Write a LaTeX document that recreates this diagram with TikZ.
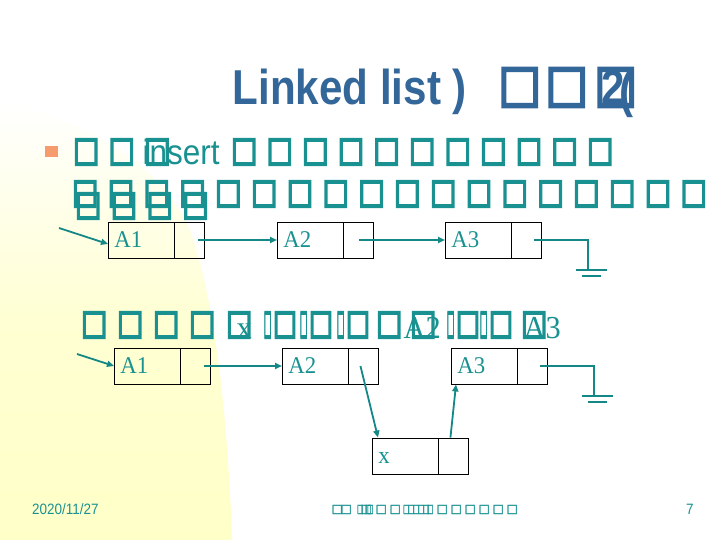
\documentclass[tikz,border=0pt]{standalone}
\usepackage{fontspec}
\usepackage{graphicx}
\usetikzlibrary{arrows.meta}
\newfontfamily\sansf[FakeStretch=0.9]{Liberation Sans}
\newfontfamily\titlef[FakeStretch=0.86]{Liberation Sans}
\newfontfamily\serf[FakeStretch=0.95]{Liberation Serif}
\newfontfamily\tofu[FakeBold=6]{DejaVu Sans}
\newfontfamily\tofuS[FakeBold=2]{DejaVu Sans}
\newfontfamily\tofuT[FakeBold=5.5]{DejaVu Sans}
\definecolor{tealtx}{RGB}{25,145,145}
\definecolor{tealln}{RGB}{20,135,135}
\definecolor{titleblue}{RGB}{51,102,153}
\definecolor{bulletor}{RGB}{245,155,110}
\definecolor{yel}{RGB}{255,255,200}
% tofu glyph: #1 = ink width, #2 = ink height, #3 = font
\newcommand\tofubox[3]{\hspace*{-\dimexpr #1pt*10/80\relax}\raisebox{\depth}{\resizebox*{\dimexpr #1pt*100/80\relax}{#2pt}{#3□}}}
\newcommand\tbT{\tofubox{34}{39}{\tofuT}}
\newcommand\tb{\tofubox{21}{26}{\tofu}}
\newcommand\tnarrow{\tofubox{6}{26}{\tofu}}
\newcommand\tfullbox{\tofubox{19}{26}{\tofu}}
\newcommand\tpair{\tnarrow\hspace*{4pt}\tfullbox}
\newcommand\tsm{\tofubox{9}{9}{\tofuS}}
\newcommand\tsn{\tofubox{5}{9}{\tofuS}}
\newcommand\putat[2]{\rlap{\hspace*{#1pt}#2}}
\tikzset{
  cell/.style={draw=black, line width=0.9pt, minimum height=36pt, inner sep=0pt, anchor=west},
  dcell/.style={cell, minimum width=66pt, text=tealtx, font=\serf\fontsize{24}{24}\selectfont},
  pcell/.style={cell, minimum width=30pt},
  arr/.style={draw=tealln, line width=1.8pt, -{Triangle[length=7pt,width=6pt]}},
  gnd/.style={draw=tealln, line width=1.1pt},
  txtline/.style={anchor=base west, inner sep=0pt, text=tealtx}
}
\newcommand\lab[1]{\makebox[54pt][l]{#1\vphantom{A}}}
\begin{document}
\begin{tikzpicture}[x=1pt,y=-1pt]
\useasboundingbox (0,0) rectangle (720,540);
\fill[white] (0,0) rectangle (720,540);
\shade[top color=white, bottom color=yel, middle color=yel!80] (0,100) -- (0,540) -- (232,540) .. controls (228,420) and (215,300) .. (190,230) .. controls (160,160) and (80,120) .. (0,100) -- cycle;

% title
\node[txtline, text=titleblue, font=\titlef\bfseries\fontsize{49}{49}\selectfont] (title) at (0,105)
 {\putat{232}{Linked list )}\putat{502}{\raisebox{-2pt}{\tbT}}\putat{549}{\raisebox{-2pt}{\tbT}}\putat{598}{\raisebox{-2pt}{\tbT}}\putat{601}{2}\putat{619}{\raisebox{-3pt}{(}}};

% bullet
\node[fill=bulletor, minimum width=13pt, minimum height=11pt, inner sep=0pt] (bul) at (51.5,151.5) {};

% line 1
\node[txtline] (line1) at (0,165)
 {\putat{75}{\tb}\putat{110.6}{\tb}\putat{146.2}{\tb}\putat{142}{\sansf\fontsize{35}{35}\selectfont insert}%
  \putat{233}{\foreach \k in {1,...,11}{\makebox[35.6pt][l]{\tb}}}};
% line 2
\node[txtline] (line2) at (0,207)
 {\putat{74}{\foreach \k in {1,...,18}{\makebox[35.8pt][l]{\tb}}}};
\node[txtline] (line2b) at (0,219)
 {\putat{77}{\foreach \k in {1,...,4}{\makebox[35.8pt][l]{\tb}}}};

% top list
\node[dcell] (ta1) at (108,240) {\lab{A1}};
\node[pcell] (ta1p) at (174,240) {};
\node[dcell] (ta2) at (277,240) {\lab{A2}};
\node[pcell] (ta2p) at (343,240) {};
\node[dcell] (ta3) at (445,240) {\lab{A3}};
\node[pcell] (ta3p) at (511,240) {};
\coordinate (th) at (59,228);
\coordinate (tg) at (588,270);
\draw[arr] (th) -- ([yshift=-4pt]ta1.west);
\draw[arr] ([xshift=9pt]ta1p.center) -- (ta2.west);
\draw[arr] ([xshift=1pt]ta2p.center) -- (ta3.west);
\draw[gnd] ([xshift=8pt]ta3p.center) -| (tg);
\draw[gnd] ([xshift=-12pt]tg) -- ([xshift=19pt]tg);
\draw[gnd] ([xshift=-6pt,yshift=-6pt]tg) -- ([xshift=13pt,yshift=-6pt]tg);

% line 3
\node[txtline] (line3) at (0,338)
 {\putat{83}{\tb}\putat{119}{\tb}\putat{155}{\tb}\putat{191}{\tb}\putat{228}{\tb}%
  \putat{236}{\serf\fontsize{32}{32}\selectfont x}%
  \putat{264}{\tpair}\putat{300}{\tpair}\putat{337}{\tpair}%
  \putat{378}{\tb}\putat{412}{\tb}\putat{403}{\serf\fontsize{32}{32}\selectfont A2}%
  \putat{447}{\tpair}\putat{480}{\tpair}%
  \putat{523}{\tb}\putat{523}{\serf\fontsize{32}{32}\selectfont A3}};

% bottom list
\node[dcell] (ba1) at (114,366) {\lab{A1}};
\node[pcell] (ba1p) at (180,366) {};
\node[dcell] (ba2) at (282,366) {\lab{A2}};
\node[pcell] (ba2p) at (348,366) {};
\node[dcell] (ba3) at (451,366) {\lab{A3}};
\node[pcell] (ba3p) at (517,366) {};
\node[dcell] (bx) at (372,456) {\lab{x}};
\node[pcell] (bxp) at (438,456) {};
\coordinate (bh) at (77,354);
\coordinate (bg) at (594,396);
\draw[arr] (bh) -- (ba1.west);
\draw[arr] ([xshift=9pt]ba1p.center) -- (ba2.west);
\draw[arr] ([xshift=-3pt]ba2p.center) -- ([xshift=6pt]bx.north west);
\draw[arr] ([xshift=-3pt]bxp.north) -- ([xshift=5pt]ba3.south west);
\draw[gnd] ([xshift=8pt]ba3p.center) -| (bg);
\draw[gnd] ([xshift=-12pt]bg) -- ([xshift=19pt]bg);
\draw[gnd] ([xshift=-6pt,yshift=-6pt]bg) -- ([xshift=13pt,yshift=-6pt]bg);

% footer
\node[txtline, font=\sansf\fontsize{15}{15}\selectfont] (date) at (32,514) {2020/11/27};
\node[txtline] (foot) at (0,514)
 {\putat{332}{\tsm}\putat{341}{\tsm}%
  \putat{357}{\tsn}\putat{361}{\tsn}\putat{365}{\tsn}\putat{367}{\tsn}%
  \putat{376}{\tsm}\putat{390}{\tsm}%
  \putat{403}{\tsn}\putat{408}{\tsn}\putat{413}{\tsn}\putat{418}{\tsn}\putat{423}{\tsn}\putat{427}{\tsn}%
  \putat{437}{\tsm}\putat{451}{\tsm}\putat{465}{\tsm}\putat{479}{\tsm}\putat{493}{\tsm}\putat{507}{\tsm}};
\node[txtline, font=\sansf\fontsize{15}{15}\selectfont] (pnum) at (686,514) {7};
\end{tikzpicture}
\end{document}
